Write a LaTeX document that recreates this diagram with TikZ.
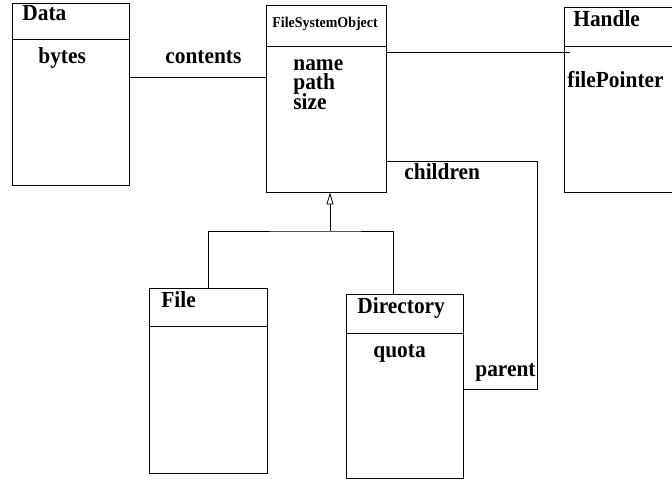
\documentclass[tikz,border=0pt]{standalone}
\usepackage{fontspec}
\setmainfont[FakeStretch=0.93]{Liberation Serif}
\usetikzlibrary{arrows.meta}

\begin{document}
\begin{tikzpicture}[x=1pt, y=-1pt, line width=0.8pt]
    \tikzstyle{cbox} = [draw=black, rectangle, inner sep=0pt]
    \tikzstyle{ctext} = [inner sep=0pt, anchor=base west, font=\fontsize{23}{23}\selectfont\bfseries]
    \tikzstyle{gentip} = [-{Triangle[open, width=7pt, length=12pt]}]

    \useasboundingbox (0,0) rectangle (672,482);
    \clip (0,0) rectangle (672,482);

    % class boxes
    \node[cbox, minimum width=117pt, minimum height=182pt] (data) at (70.5,94) {};
    \node[cbox, minimum width=120pt, minimum height=187pt] (fso) at (326,98.5) {};
    \node[cbox, minimum width=140pt, minimum height=185pt] (handle) at (634,99.5) {};
    \node[cbox, minimum width=118pt, minimum height=185pt] (file) at (208,380.5) {};
    \node[cbox, minimum width=117pt, minimum height=184pt] (dir) at (404.5,386) {};

    \draw (data.west |- 0,39) -- (data.east |- 0,39);
    \draw (fso.west |- 0,46) -- (fso.east |- 0,46);
    \draw (handle.west |- 0,46) -- (handle.east |- 0,46);
    \draw (file.west |- 0,326) -- (file.east |- 0,326);
    \draw (dir.west |- 0,333) -- (dir.east |- 0,333);

    % names and attributes
    \node[ctext] (dataN) at (22,20) {Data};
    \node[ctext] (dataA) at (38,63) {bytes};
    \node[ctext, font=\fontsize{15}{15}\selectfont\bfseries] (fsoN) at (272,27) {FileSystemObject};
    \node[ctext] (fsoA1) at (293,70) {name};
    \node[ctext] (fsoA2) at (293,89.5) {path};
    \node[ctext] (fsoA3) at (293,109) {size};
    \node[ctext] (handleN) at (573,26) {Handle};
    \node[ctext] (handleA) at (567,87) {filePointer};
    \node[ctext] (fileN) at (161,307) {File};
    \node[ctext] (dirN) at (357,313) {Directory};
    \node[ctext] (dirA) at (373,357) {quota};

    % associations
    \coordinate (hEnd) at (570,52);
    \coordinate (selfR) at (537,161);
    \draw (data.east |- 0,77) -- (fso.west |- 0,77);
    \draw (fso.east |- hEnd) -- (hEnd);
    \draw (fso.east |- selfR) -- (selfR) |- (dir.east |- 0,389);
    \node[ctext] (contL) at (165,63) {contents};
    \node[ctext] (childL) at (404,179) {children};
    \node[ctext] (parL) at (475,376) {parent};

    % generalization
    \coordinate (gen) at (330,231);
    \draw (file.north) |- (gen) -| ([xshift=-11.5pt]dir.north);
    \draw[gentip] (gen) -- (gen |- fso.south);
\end{tikzpicture}
\end{document}
